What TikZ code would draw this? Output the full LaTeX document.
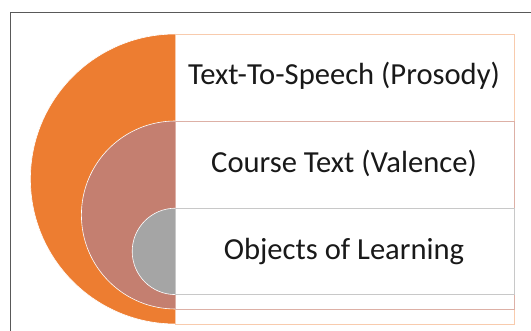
\documentclass[tikz,border=0pt]{standalone}
\usepackage{fontspec}
\setmainfont{Carlito}
\definecolor{orng}{HTML}{ED7D31}
\definecolor{mauve}{HTML}{C47F70}
\definecolor{gry}{HTML}{A5A5A5}
\definecolor{orngline}{HTML}{F8CBAD}
\definecolor{mauveline}{HTML}{DDB0A6}
\definecolor{gryline}{HTML}{C8C8C8}
\definecolor{frame}{HTML}{595959}
\tikzset{
  halfdisk/.style={draw=white, line width=0.6pt},
  layerbox/.style={fill=white, line width=0.8pt},
  lbl/.style={font=\fontsize{30.6}{36}\selectfont, text=black!90}
}
\begin{document}
\begin{tikzpicture}[x=1pt,y=1pt]
\useasboundingbox (0,0) rectangle (531,331);
\fill[white] (0,0) rectangle (531,331);
\begin{scope}
\clip (0,0) rectangle (531,331);
\draw[frame, line width=1pt] (10,-5) -- (10,318) -- (540,318);
\end{scope}
% orange layer
\fill[orng, halfdisk] (175.4,7) arc[start angle=-90, end angle=-270, radius=145] -- cycle;
\draw[layerbox, draw=orngline] (175.4,7) rectangle (514,297);
% mauve layer
\fill[mauve, halfdisk] (175.4,22) arc[start angle=-90, end angle=-270, radius=94] -- cycle;
\draw[layerbox, draw=mauveline] (175.4,22) rectangle (514,210);
% gray layer
\fill[gry, halfdisk] (175.4,36.4) arc[start angle=-90, end angle=-270, radius=43.2] -- cycle;
\draw[layerbox, draw=gryline] (175.4,36.4) rectangle (514,123);
% labels
\node[lbl] (t1) at (344,255) {Text-To-Speech (Prosody)};
\node[lbl] (t2) at (344,167.5) {Course Text (Valence)};
\node[lbl] (t3) at (344,79.5) {Objects of Learning};
\end{tikzpicture}
\end{document}
